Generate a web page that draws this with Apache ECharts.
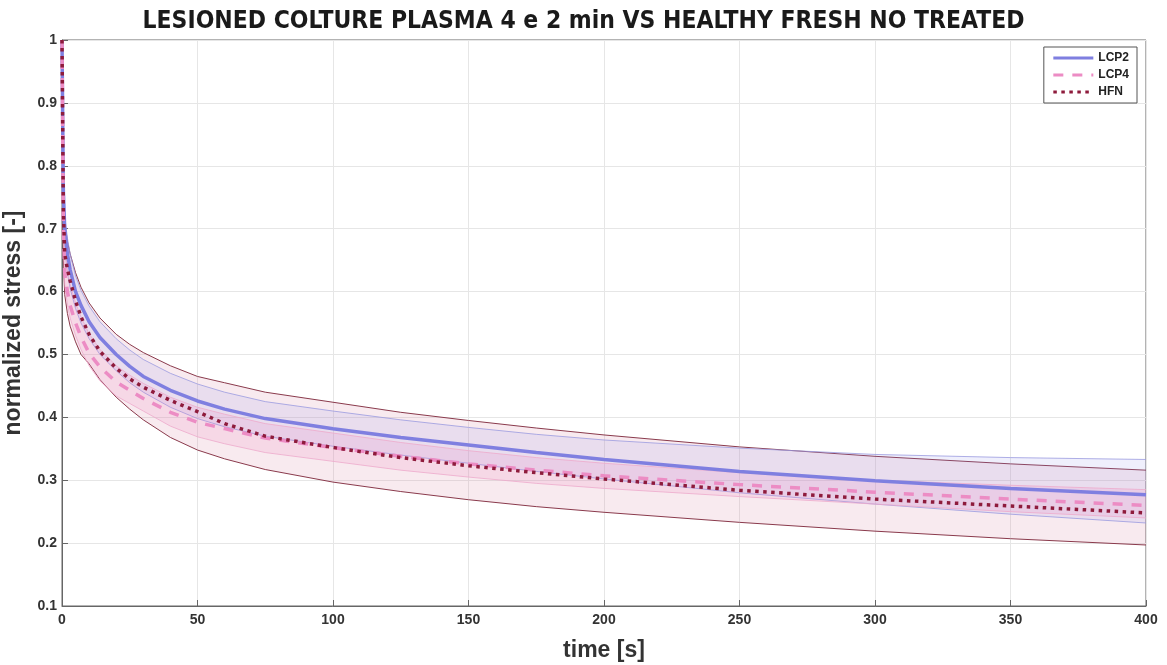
<!DOCTYPE html>
<html>
<head>
<meta charset="utf-8">
<title>Stress relaxation</title>
<script src="https://cdn.jsdelivr.net/npm/echarts@6/dist/echarts.min.js"></script>
<style>
  html, body { margin: 0; padding: 0; background: #fff; }
  #chart { width: 1167px; height: 665px; }
</style>
</head>
<body>
<div id="chart"></div>
<script>
// Sample times [s]
const times = [0, 0.5, 1, 2, 3, 5, 7, 10, 14, 20, 25, 30, 40, 50, 60, 75, 100, 125, 150, 175, 200, 250, 300, 350, 400];

// Mean normalized stress curves
const lcp2Mean = [1, 0.76, 0.70, 0.66, 0.635, 0.60, 0.578, 0.552, 0.527, 0.50, 0.481, 0.465, 0.443, 0.426, 0.413, 0.398, 0.382, 0.368, 0.356, 0.344, 0.333, 0.314, 0.299, 0.287, 0.277];
const lcp4Mean = [1, 0.70, 0.63, 0.60, 0.578, 0.55, 0.528, 0.502, 0.48, 0.456, 0.443, 0.43, 0.408, 0.392, 0.382, 0.367, 0.352, 0.338, 0.326, 0.316, 0.307, 0.293, 0.281, 0.270, 0.260];
const hfnMean  = [1, 0.73, 0.66, 0.635, 0.617, 0.585, 0.56, 0.532, 0.505, 0.478, 0.461, 0.448, 0.427, 0.409, 0.39, 0.370, 0.352, 0.336, 0.323, 0.312, 0.302, 0.284, 0.270, 0.259, 0.248];

// Dispersion bands (upper / lower limits)
const hfnUpper  = [1, 0.77, 0.71, 0.68, 0.66, 0.63, 0.607, 0.582, 0.558, 0.532, 0.516, 0.503, 0.482, 0.465, 0.455, 0.44, 0.424, 0.408, 0.395, 0.383, 0.372, 0.353, 0.338, 0.326, 0.316];
const hfnLower  = [1, 0.65, 0.595, 0.565, 0.545, 0.52, 0.50, 0.485, 0.46, 0.432, 0.413, 0.396, 0.368, 0.348, 0.334, 0.317, 0.297, 0.282, 0.269, 0.258, 0.249, 0.233, 0.219, 0.207, 0.197];
const lcp2Upper = [1, 0.78, 0.72, 0.685, 0.66, 0.625, 0.602, 0.577, 0.552, 0.525, 0.507, 0.492, 0.47, 0.453, 0.44, 0.425, 0.41, 0.396, 0.384, 0.373, 0.364, 0.351, 0.341, 0.336, 0.333];
const lcp2Lower = [1, 0.73, 0.67, 0.63, 0.605, 0.573, 0.55, 0.525, 0.50, 0.474, 0.455, 0.44, 0.416, 0.398, 0.385, 0.37, 0.354, 0.34, 0.327, 0.314, 0.302, 0.28, 0.262, 0.246, 0.232];
const lcp4Upper = [1, 0.74, 0.67, 0.635, 0.612, 0.582, 0.56, 0.533, 0.508, 0.482, 0.467, 0.454, 0.432, 0.416, 0.405, 0.39, 0.375, 0.36, 0.347, 0.336, 0.327, 0.312, 0.30, 0.292, 0.285];
const lcp4Lower = [1, 0.68, 0.61, 0.58, 0.558, 0.53, 0.508, 0.482, 0.458, 0.434, 0.422, 0.41, 0.386, 0.369, 0.358, 0.344, 0.33, 0.316, 0.305, 0.295, 0.287, 0.274, 0.262, 0.25, 0.24];

const titleText = 'LESIONED COLTURE PLASMA 4 e 2 min VS HEALTHY FRESH NO TREATED';
const xTicks = { min: 0, max: 400, interval: 50 };
const yTicks = { min: 0.1, max: 1, interval: 0.1 };

const FONT = '"Liberation Sans", Arial, Helvetica, sans-serif';

// Pick a condensed face for the title if one is installed, and size it to span the plot
function titleFont(targetWidth) {
  const ctx = document.createElement('canvas').getContext('2d');
  const probe = 'bold 30px ';
  const candidates = ['Liberation Sans Narrow', 'DejaVu Sans Condensed', 'Liberation Sans'];
  ctx.font = probe + 'monospace';
  const base = ctx.measureText(titleText).width;
  for (const fam of candidates) {
    ctx.font = probe + '"' + fam + '", monospace';
    const w = ctx.measureText(titleText).width;
    if (Math.abs(w - base) > 0.5) {
      return { family: '"' + fam + '", sans-serif', size: Math.min(31, 30 * targetWidth / w) };
    }
  }
  return { family: FONT, size: 24 };
}
const tFont = titleFont(882);

function pairs(arr) { return times.map((t, i) => [t, arr[i]]); }

// Shaded band drawn as a polygon through the axis coordinate system
function bandSeries(name, upper, lower, fill, edge, edgeWidth) {
  return {
    name: name,
    type: 'custom',
    silent: true,
    z: 1,
    data: [[0, 0.5]],
    renderItem: function (params, api) {
      const up = times.map((t, i) => api.coord([t, upper[i]]));
      const lo = times.map((t, i) => api.coord([t, lower[i]]));
      const poly = up.concat(lo.slice().reverse());
      return {
        type: 'group',
        children: [
          { type: 'polygon', shape: { points: poly }, style: { fill: fill, stroke: null } },
          { type: 'polyline', shape: { points: up }, style: { fill: null, stroke: edge, lineWidth: edgeWidth } },
          { type: 'polyline', shape: { points: lo }, style: { fill: null, stroke: edge, lineWidth: edgeWidth } }
        ]
      };
    }
  };
}

const chart = echarts.init(document.getElementById('chart'));

chart.setOption({
  backgroundColor: '#ffffff',
  animation: false,
  title: {
    text: titleText,
    left: 'center',
    top: 19 - tFont.size * 0.6,
    textStyle: { fontFamily: tFont.family, fontWeight: 'bold', fontSize: tFont.size, color: '#1a1a1a' }
  },
  legend: {
    orient: 'vertical',
    right: 30,
    top: 47,
    itemWidth: 40,
    itemHeight: 10,
    itemGap: 5,
    padding: [5, 8, 5, 8],
    borderColor: '#555',
    borderWidth: 1,
    borderRadius: 0,
    backgroundColor: '#fff',
    itemStyle: { opacity: 0 },
    lineStyle: { width: 3 },
    textStyle: { fontFamily: FONT, fontWeight: 'bold', fontSize: 12, color: '#222' },
    data: ['LCP2', 'LCP4', 'HFN']
  },
  grid: {
    left: 62, right: 21, top: 40, bottom: 59,
    show: true,
    borderColor: '#666',
    borderWidth: 1,
    containLabel: false,
    outerBoundsMode: 'none'
  },
  xAxis: {
    type: 'value',
    min: xTicks.min, max: xTicks.max, interval: xTicks.interval,
    name: 'time [s]',
    nameLocation: 'middle',
    nameGap: 33,
    nameTextStyle: { fontFamily: FONT, fontWeight: 'bold', fontSize: 23, color: '#333' },
    axisLine: { show: true, lineStyle: { color: '#666', width: 1 } },
    axisTick: { show: true, inside: true, length: 6, lineStyle: { color: '#666' } },
    axisLabel: { fontFamily: FONT, fontWeight: 'bold', fontSize: 14, color: '#333', margin: 7 },
    splitLine: { show: true, lineStyle: { color: '#e6e6e6', width: 1 } }
  },
  yAxis: {
    type: 'value',
    min: yTicks.min, max: yTicks.max, interval: yTicks.interval,
    name: 'normalized stress [-]',
    nameLocation: 'middle',
    nameGap: 37,
    nameRotate: 90,
    nameTextStyle: { fontFamily: FONT, fontWeight: 'bold', fontSize: 23, color: '#333' },
    axisLine: { show: true, lineStyle: { color: '#666', width: 1 } },
    axisTick: { show: true, inside: true, length: 6, lineStyle: { color: '#666' } },
    axisLabel: {
      fontFamily: FONT, fontWeight: 'bold', fontSize: 14, color: '#333', margin: 5,
      formatter: function (v) { return Math.abs(v - 1) < 1e-9 ? '1' : v.toFixed(1); }
    },
    splitLine: { show: true, lineStyle: { color: '#e6e6e6', width: 1 } }
  },
  series: [
    bandSeries('HFN band', hfnUpper, hfnLower, 'rgba(215,130,160,0.17)', '#8a3a4c', 1),
    bandSeries('LCP2 band', lcp2Upper, lcp2Lower, 'rgba(150,150,235,0.15)', '#9a9ae0', 0.8),
    bandSeries('LCP4 band', lcp4Upper, lcp4Lower, 'rgba(240,130,190,0.17)', '#eeaacc', 0.8),
    {
      name: 'LCP2', type: 'line', z: 3, data: pairs(lcp2Mean),
      symbol: 'none', smooth: false,
      lineStyle: { color: '#7f7fe0', width: 3.5 },
      itemStyle: { color: '#7f7fe0' }
    },
    {
      name: 'LCP4', type: 'line', z: 4, data: pairs(lcp4Mean),
      symbol: 'none', smooth: false,
      lineStyle: { color: '#ec8cc4', width: 3.5, type: [10, 9] },
      itemStyle: { color: '#ec8cc4' }
    },
    {
      name: 'HFN', type: 'line', z: 5, data: pairs(hfnMean),
      symbol: 'none', smooth: false,
      lineStyle: { color: '#8e1b3c', width: 3.5, type: [3.5, 4.5] },
      itemStyle: { color: '#8e1b3c' }
    }
  ]
});
</script>
</body>
</html>
